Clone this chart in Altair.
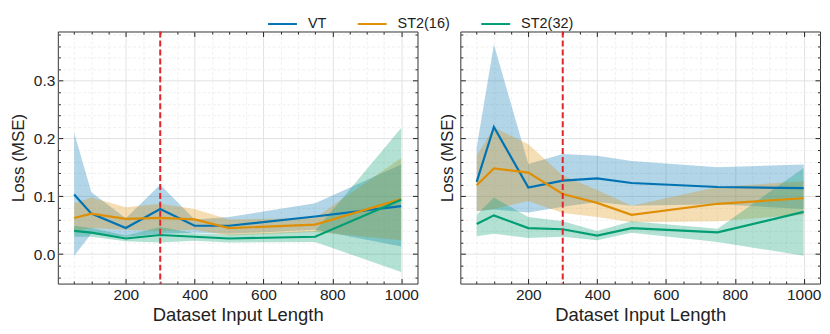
import altair as alt
import pandas as pd

lengths = [50, 100, 200, 300, 400, 500, 750, 1000]
models = ["VT", "ST2(16)", "ST2(32)"]
colors = ["#0173B2", "#DE8F05", "#029E73"]

# Left panel
l_vt_mean = [0.103, 0.070, 0.045, 0.078, 0.049, 0.049, 0.065, 0.083]
l_vt_lo = [-0.003, 0.035, 0.030, 0.035, 0.037, 0.035, 0.042, 0.013]
l_vt_hi = [0.210, 0.107, 0.062, 0.120, 0.060, 0.064, 0.088, 0.155]
l_s16_mean = [0.0625, 0.070, 0.061, 0.0625, 0.060, 0.045, 0.051, 0.095]
l_s16_lo = [0.040, 0.045, 0.042, 0.040, 0.042, 0.032, 0.038, 0.024]
l_s16_hi = [0.088, 0.098, 0.081, 0.087, 0.078, 0.060, 0.0625, 0.166]
l_s32_mean = [0.040, 0.037, 0.027, 0.033, 0.030, 0.027, 0.030, 0.094]
l_s32_lo = [0.030, 0.030, 0.022, 0.020, 0.023, 0.020, 0.021, -0.031]
l_s32_hi = [0.049, 0.045, 0.032, 0.047, 0.036, 0.034, 0.040, 0.218]

# Right panel
r_vt_mean = [0.125, 0.220, 0.115, 0.127, 0.131, 0.123, 0.116, 0.114]
r_vt_lo = [0.074, 0.077, 0.072, 0.082, 0.090, 0.0835, 0.086, 0.078]
r_vt_hi = [0.185, 0.3625, 0.156, 0.173, 0.170, 0.161, 0.150, 0.155]
r_s16_mean = [0.119, 0.148, 0.141, 0.104, 0.0886, 0.068, 0.087, 0.0966]
r_s16_lo = [0.074, 0.078, 0.092, 0.071, 0.064, 0.055, 0.057, 0.068]
r_s16_hi = [0.170, 0.219, 0.190, 0.136, 0.111, 0.0835, 0.116, 0.126]
r_s32_mean = [0.052, 0.067, 0.045, 0.043, 0.032, 0.045, 0.0375, 0.073]
r_s32_lo = [0.031, 0.035, 0.028, 0.030, 0.024, 0.037, 0.021, -0.003]
r_s32_hi = [0.068, 0.098, 0.064, 0.057, 0.040, 0.057, 0.044, 0.149]

cutoff = [300]

major_x = [200, 400, 600, 800, 1000]
minor_x = [50, 100, 150, 250, 300, 350, 450, 500, 550, 650, 700, 750, 850, 900, 950]
major_y = [0.0, 0.1, 0.2, 0.3]
minor_y = [-0.04, -0.02, 0.02, 0.04, 0.06, 0.08, 0.12, 0.14, 0.16, 0.18,
           0.22, 0.24, 0.26, 0.28, 0.32, 0.34, 0.36, 0.38]

W, H = 361, 253
FONT = "Liberation Sans"

LEGEND = dict(orient="none", legendX=210, legendY=-23, direction="horizontal", title=None,
              symbolType="stroke", symbolStrokeWidth=2, symbolSize=840, symbolOpacity=1,
              labelFontSize=14.5, labelOffset=10, columnPadding=27, gridAlign="none",
              labelFont=FONT, labelColor="#222222")


def make_panel(series, show_labels, ytitle_pad):
    rows = []
    for m, (mean, lo, hi) in zip(models, series):
        for i, L in enumerate(lengths):
            rows.append(dict(len=L, model=m, mean=mean[i], lo=lo[i], hi=hi[i]))
    df = pd.DataFrame(rows)
    base = alt.Chart(df)
    xs = alt.Scale(domain=[2.5, 1047.5], nice=False, zero=False)
    ys = alt.Scale(domain=[-0.051, 0.385], nice=False, zero=False)
    cs = alt.Scale(domain=models, range=colors)

    band = base.mark_area(opacity=0.3).encode(
        x=alt.X("len:Q", scale=xs, axis=alt.Axis(
            orient="bottom", values=major_x, format="d", title="Dataset Input Length",
            ticks=False, tickSize=0, domain=False, grid=True, gridColor="#e2e2e2",
            gridWidth=1, labelPadding=4, titlePadding=3, titleFontSize=18.5)),
        y=alt.Y("lo:Q", scale=ys, axis=alt.Axis(
            orient="left", values=major_y, format=".1f", title="Loss (MSE)",
            labels=show_labels, ticks=False, tickSize=0, domain=False, grid=True,
            gridColor="#e2e2e2", gridWidth=1, labelPadding=3, titlePadding=ytitle_pad)),
        y2="hi:Q",
        fill=alt.Fill("model:N", scale=cs, legend=alt.Legend(**LEGEND)),
    )
    line = base.mark_line(strokeWidth=2.2).encode(
        x=alt.X("len:Q", scale=xs, axis=None),
        y=alt.Y("mean:Q", scale=ys, axis=None),
        color=alt.Color("model:N", scale=cs, legend=alt.Legend(**LEGEND)),
    )
    rule = alt.Chart(pd.DataFrame({"x": cutoff})).mark_rule(
        color="#E3262B", strokeWidth=2, strokeDash=[6, 3]).encode(
        x=alt.X("x:Q", scale=xs, axis=None))

    minor_grid = base.mark_line(opacity=0).encode(
        x=alt.X("len:Q", scale=xs, axis=alt.Axis(
            orient="bottom", values=minor_x, labels=False, ticks=False, domain=False,
            title=None, grid=True, gridColor="#ececec", gridDash=[3, 2], gridWidth=0.8)),
        y=alt.Y("mean:Q", scale=ys, axis=alt.Axis(
            orient="left", values=minor_y, labels=False, ticks=False, domain=False,
            title=None, grid=True, gridColor="#ececec", gridDash=[3, 2], gridWidth=0.8)),
    )

    def ticks(xo, yo, xv, yv, size):
        return base.mark_line(opacity=0).encode(
            x=alt.X("len:Q", scale=xs, axis=alt.Axis(
                orient=xo, offset=-H, values=xv, labels=False, domain=False, title=None,
                grid=False, ticks=True, tickSize=size, tickColor="#222222", tickWidth=1)),
            y=alt.Y("mean:Q", scale=ys, axis=alt.Axis(
                orient=yo, offset=-W, values=yv, labels=False, domain=False, title=None,
                grid=False, ticks=True, tickSize=size, tickColor="#222222", tickWidth=1)),
        )

    layers = [minor_grid, band, line, rule,
              ticks("top", "right", major_x, major_y, 5),
              ticks("bottom", "left", major_x, major_y, 5),
              ticks("top", "right", minor_x, minor_y, 2.5),
              ticks("bottom", "left", minor_x, minor_y, 2.5)]
    return alt.layer(*layers).resolve_axis(x="independent", y="independent").properties(
        width=W, height=H)


left = make_panel([(l_vt_mean, l_vt_lo, l_vt_hi),
                   (l_s16_mean, l_s16_lo, l_s16_hi),
                   (l_s32_mean, l_s32_lo, l_s32_hi)], True, 6)
right = make_panel([(r_vt_mean, r_vt_lo, r_vt_hi),
                    (r_s16_mean, r_s16_lo, r_s16_hi),
                    (r_s32_mean, r_s32_lo, r_s32_hi)], False, 4)

chart = alt.hconcat(left, right, spacing=18).properties(
    padding={"left": 0, "top": 0, "right": 0, "bottom": 0}
).configure(font=FONT).configure_view(
    stroke="#333333", strokeWidth=1
).configure_axis(
    labelFont=FONT, titleFont=FONT, labelFontSize=15.5, titleFontSize=17,
    titleFontWeight="normal", labelColor="#222222", titleColor="#222222"
)

chart.save("out.html", embed_options={"renderer": "svg", "actions": False})
